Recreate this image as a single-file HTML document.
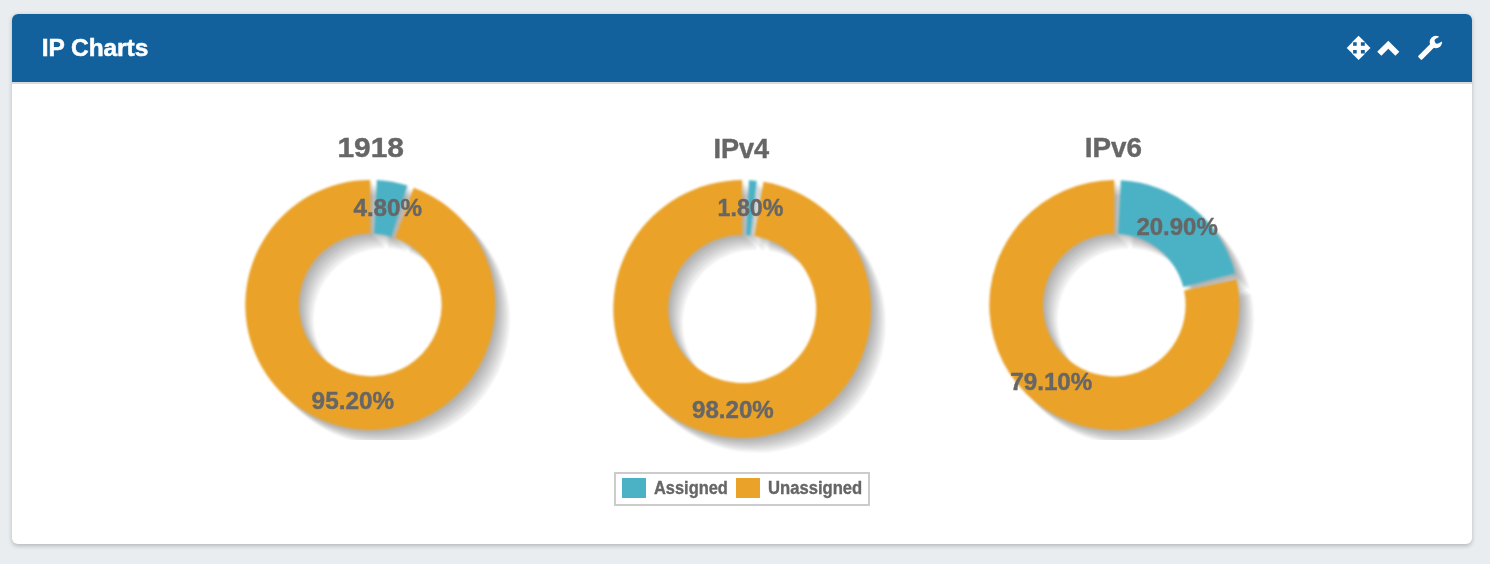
<!DOCTYPE html>
<html lang="en"><head><meta charset="utf-8"><title>IP Charts</title>
<style>
html,body{margin:0;padding:0}
body{width:1490px;height:564px;overflow:hidden;background:#e9edf0;position:relative;font-family:"Liberation Sans",Arial,sans-serif}
.panel{position:absolute;left:12px;top:14px;width:1460px;height:530px;background:#fff;border-radius:6px;box-shadow:0 1.5px 4px rgba(0,0,0,.22)}
.head{position:absolute;left:0;top:0;right:0;height:68px;background:#12619d;border-radius:6px 6px 0 0;border-bottom:2px solid #dadada}
.title{position:absolute;left:29.8px;top:20.1px;font-size:24.5px;line-height:28px;font-weight:bold;color:#fff;white-space:nowrap;letter-spacing:-0.08px;-webkit-text-stroke:0.5px #fff}
.icons{position:absolute;left:0;top:0}
.plot{position:absolute;left:0;top:0}
.plot text{font-family:"Liberation Sans",Arial,sans-serif;font-weight:bold;fill:#666;stroke:#666;stroke-width:0.4px}
.shapes{filter:blur(0.8px)}
.legend{position:absolute;left:614px;top:472px;width:252px;height:30px;border:2px solid #ccc;background:#fff;font-size:17.5px;font-weight:bold;color:#666}
.sw{position:absolute;top:4px;width:24px;height:20px}
.lb{position:absolute;top:4px;line-height:20px;white-space:nowrap;transform:scaleX(0.95);transform-origin:0 50%;-webkit-text-stroke:0.35px #666}
</style></head><body>
<div class="panel">
 <div class="head"><div class="title">IP Charts</div></div>
</div>
<svg class="icons" width="1490" height="90" viewBox="0 0 1490 90" fill="#fff">
 <g id="move">
  <path d="M1358.6 35.7L1365.2 42.3H1352Z"/>
  <path d="M1358.6 60.1L1365.2 53.6H1352Z"/>
  <path d="M1346.7 47.9L1353.1 41.5V54.3Z"/>
  <path d="M1370.5 47.9L1364.8 42.2V53.6Z"/>
  <rect x="1356.7" y="41" width="4.2" height="14"/>
  <rect x="1352" y="45.8" width="14" height="4.2"/>
 </g>
 <polygon points="1388.3,40.85 1399.3,51.7 1395.4,55.7 1388.3,48.8 1381.4,55.7 1377.2,51.7"/>
 <g transform="translate(1419.6 58.3) rotate(-45)">
  <path d="M1 -2.6H19V2.6H1A1 1 0 0 1 0 1.6V-1.6A1 1 0 0 1 1 -2.6Z"/>
 </g>
 <circle cx="1435.9" cy="42.1" r="6.25"/>
 <g transform="translate(1437.4 40.9) rotate(-28)" fill="#12619d">
  <path d="M0 -2.7H6.5V2.7H0A2.7 2.7 0 0 1 0 -2.7Z"/>
 </g>
</svg>
<svg class="plot" width="1490" height="470" viewBox="0 0 1490 470">
<defs>
<path id="c0a" d="M376.84 180.07A125 125 0 0 1 407.43 185.54L391.48 236.82A71.3 71.3 0 0 0 374.03 233.70Z"/>
<path id="c0b" d="M413.63 187.65A125 125 0 1 1 370.30 179.90L370.30 233.60A71.3 71.3 0 1 0 395.01 238.02Z"/>
<path id="c1a" d="M748.95 180.28A128.9 128.9 0 0 1 756.75 180.92L750.55 235.47A74.0 74.0 0 0 0 746.07 235.10Z"/>
<path id="c1b" d="M763.43 181.86A128.9 128.9 0 1 1 742.20 180.10L742.20 235.00A74.0 74.0 0 1 0 754.39 236.01Z"/>
<path id="c2a" d="M1120.84 180.27A125 125 0 0 1 1235.18 273.25L1183.25 286.93A71.3 71.3 0 0 0 1118.03 233.90Z"/>
<path id="c2b" d="M1236.68 279.62A125 125 0 1 1 1114.30 180.10L1114.30 233.80A71.3 71.3 0 1 0 1184.10 290.57Z"/>
<clipPath id="clipA"><rect x="0" y="0" width="1490" height="440"/></clipPath>
</defs>
<g clip-path="url(#clipA)"><g class="shapes">
<g fill="#000" fill-opacity="0.07">
<use href="#c0a" x="2.83" y="2.83"/>
<use href="#c0a" x="5.66" y="5.66"/>
<use href="#c0a" x="8.49" y="8.49"/>
<use href="#c0a" x="11.32" y="11.32"/>
<use href="#c0a" x="14.15" y="14.15"/>
<use href="#c0b" x="2.83" y="2.83"/>
<use href="#c0b" x="5.66" y="5.66"/>
<use href="#c0b" x="8.49" y="8.49"/>
<use href="#c0b" x="11.32" y="11.32"/>
<use href="#c0b" x="14.15" y="14.15"/>
</g>
<use href="#c0a" fill="#4bb2c5"/>
<use href="#c0b" fill="#eaa228"/>
</g></g>
<g><g class="shapes">
<g fill="#000" fill-opacity="0.07">
<use href="#c1a" x="2.83" y="2.83"/>
<use href="#c1a" x="5.66" y="5.66"/>
<use href="#c1a" x="8.49" y="8.49"/>
<use href="#c1a" x="11.32" y="11.32"/>
<use href="#c1a" x="14.15" y="14.15"/>
<use href="#c1b" x="2.83" y="2.83"/>
<use href="#c1b" x="5.66" y="5.66"/>
<use href="#c1b" x="8.49" y="8.49"/>
<use href="#c1b" x="11.32" y="11.32"/>
<use href="#c1b" x="14.15" y="14.15"/>
</g>
<use href="#c1a" fill="#4bb2c5"/>
<use href="#c1b" fill="#eaa228"/>
</g></g>
<g clip-path="url(#clipA)"><g class="shapes">
<g fill="#000" fill-opacity="0.07">
<use href="#c2a" x="2.83" y="2.83"/>
<use href="#c2a" x="5.66" y="5.66"/>
<use href="#c2a" x="8.49" y="8.49"/>
<use href="#c2a" x="11.32" y="11.32"/>
<use href="#c2a" x="14.15" y="14.15"/>
<use href="#c2b" x="2.83" y="2.83"/>
<use href="#c2b" x="5.66" y="5.66"/>
<use href="#c2b" x="8.49" y="8.49"/>
<use href="#c2b" x="11.32" y="11.32"/>
<use href="#c2b" x="14.15" y="14.15"/>
</g>
<use href="#c2a" fill="#4bb2c5"/>
<use href="#c2b" fill="#eaa228"/>
</g></g>
<text x="337.4" y="157.3" font-size="28" textLength="66.6" lengthAdjust="spacingAndGlyphs">1918</text>
<text x="713.4" y="157.8" font-size="28" textLength="55.8" lengthAdjust="spacingAndGlyphs">IPv4</text>
<text x="1084.8" y="157.4" font-size="28" textLength="57.2" lengthAdjust="spacingAndGlyphs">IPv6</text>
<text x="353.4" y="216.0" font-size="24" textLength="68.8" lengthAdjust="spacingAndGlyphs">4.80%</text>
<text x="311.6" y="409.3" font-size="24" textLength="82.6" lengthAdjust="spacingAndGlyphs">95.20%</text>
<text x="717.6" y="215.9" font-size="24" textLength="65.8" lengthAdjust="spacingAndGlyphs">1.80%</text>
<text x="692.0" y="417.9" font-size="24" textLength="81.8" lengthAdjust="spacingAndGlyphs">98.20%</text>
<text x="1136.4" y="234.8" font-size="24" textLength="81.4" lengthAdjust="spacingAndGlyphs">20.90%</text>
<text x="1010.2" y="389.7" font-size="24" textLength="82.2" lengthAdjust="spacingAndGlyphs">79.10%</text>
</svg>
<div class="legend">
 <div class="sw" style="left:6px;background:#4bb2c5"></div><div class="lb" style="left:37.6px;transform:scaleX(0.938)">Assigned</div>
 <div class="sw" style="left:120px;background:#eaa228"></div><div class="lb" style="left:152.2px">Unassigned</div>
</div>
</body></html>
